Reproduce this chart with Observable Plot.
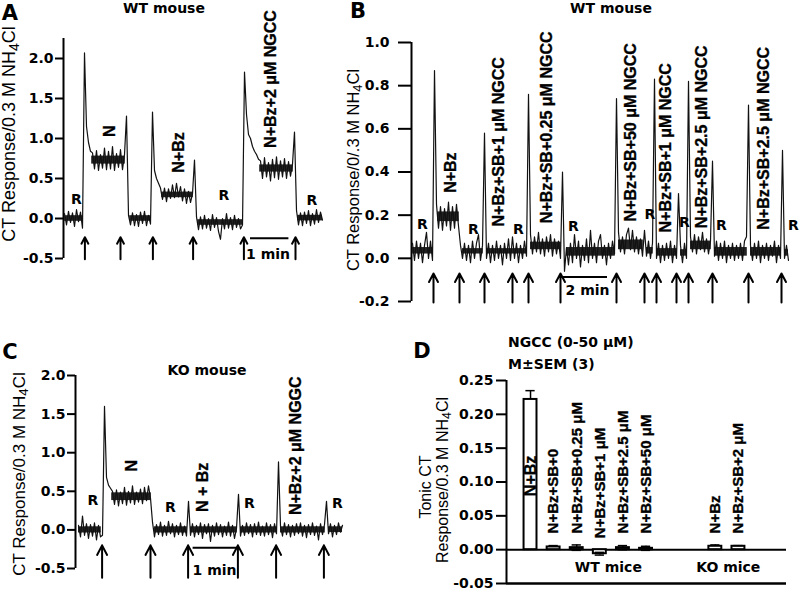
<!DOCTYPE html>
<html><head><meta charset="utf-8">
<script src="https://cdn.jsdelivr.net/npm/d3@7"></script>
<script src="https://cdn.jsdelivr.net/npm/@observablehq/plot@0.6"></script>
<style>
body{margin:0;background:#fff;}
#fig{position:relative;width:800px;height:590px;overflow:hidden;background:#fff;color:#000;}
.panel{position:absolute;}
.lbl{position:absolute;font-family:"DejaVu Sans";font-weight:bold;font-size:14px;white-space:nowrap;transform:translate(-50%,-50%);line-height:1;}
.lbll{position:absolute;font-family:"DejaVu Sans";font-weight:bold;font-size:14px;white-space:nowrap;transform:translate(0,-50%);line-height:1;}
.ytitle{position:absolute;font-family:"Liberation Sans";white-space:nowrap;transform:translate(-50%,-50%) rotate(-90deg);line-height:1;}
.ytitle sub{font-size:0.78em;vertical-align:-0.28em;line-height:0;}
.letter{position:absolute;font-family:"DejaVu Sans";font-weight:bold;font-size:21px;transform:translate(-50%,-50%);line-height:1;}
</style></head><body><div id="fig"></div>
<script>
// ---------- Panel A data (WT mouse) ----------
const traceA = [
0.06,-0.08,0.09,-0.05,0.07,-0.10,0.11,-0.04,0.08,-0.12,
2.07,
1.15,0.95,0.84,
0.82,0.62,0.85,0.60,0.80,0.63,0.88,0.61,0.84,0.62,0.90,0.60,0.81,0.64,0.86,0.61,0.80,
1.28,
0.04,
-0.08,0.07,-0.09,0.05,-0.10,0.08,-0.06,0.09,-0.09,0.04,-0.07,
1.33,
0.60,0.50,0.44,0.38,
0.24,0.38,0.21,0.37,0.25,0.42,0.26,0.44,0.27,0.40,0.22,0.37,0.19,0.34,0.20,0.31,
0.73,
0.02,
-0.14,0.02,-0.13,0.04,-0.12,0.0,-0.15,0.05,-0.11,0.01,-0.16,-0.26,0.0,-0.13,0.06,-0.12,0.01,-0.14,0.04,-0.11,0.0,-0.13,
-0.08,
1.83,
1.30,1.05,1.00,0.90,0.84,0.80,0.74,
0.72,0.50,0.76,0.52,0.70,0.47,0.74,0.51,0.77,0.49,0.72,0.52,0.75,0.50,0.71,0.53,0.68,
1.08,
0.10,
-0.08,0.07,-0.09,0.08,-0.06,0.10,-0.09,0.06,-0.07,0.11,-0.05,0.08,-0.02
];
// dense core of the noisy trace, read as [start, end, low, high]
const coreA = [
  [0, 9.4, -0.035, 0.035], [13.6, 30.4, 0.68, 0.78], [32.6, 43.4, -0.035, 0.035],
  [48.6, 64.4, 0.26, 0.33], [66.6, 89, -0.085, -0.015], [97.6, 114.4, 0.58, 0.67], [116.6, 129, -0.03, 0.04]
];
const ticksA = [-0.5, 0, 0.5, 1.0, 1.5, 2.0];
const arrowsA = [10.2, 28, 44.2, 64.3, 89.7, 115.5];
const scaleA = [{from: 93, to: 112.2, y: -0.246, text: "1 min", tx: 101.75, ty: -0.45}];
const flatLabelsA = [
  {text: "R", t: 6, v: 0.24}, {text: "R", t: 79.75, v: 0.29}, {text: "R", t: 123.75, v: 0.225}
];
const rotLabelsA = [
  {text: "N", t: 22.5, v: 1.09}, {text: "N+Bz", t: 57.25, v: 0.825},
  {text: "N+Bz+2 \u03bcM NGCC", t: 103, v: 1.744}
];

// ---------- Panel B data (WT mouse) ----------
const traceB = [
0.07,-0.01,0.08,0.0,0.07,-0.02,0.06,0.12,0.0,0.08,-0.01,
0.87,
0.25,0.14,0.24,0.13,0.23,0.15,0.26,0.13,0.24,0.14,0.25,0.15,
0.06,
0.0,0.07,-0.01,0.06,-0.02,0.08,0.0,0.07,0.11,-0.01,0.06,
0.58,
0.0,0.07,-0.02,0.06,-0.01,0.08,0.0,0.06,-0.03,0.07,0.0,0.09,-0.01,0.10,0.0,0.07,-0.02,0.06,0.0,0.08,0.01,
0.76,
0.11,0.02,0.10,0.03,0.12,0.02,0.09,0.01,0.10,0.03,0.11,0.01,0.09,0.02,0.08,0.0,
0.40,
-0.06,
0.05,-0.03,0.07,-0.02,0.11,0.0,0.08,-0.04,0.06,-0.01,0.09,-0.02,0.13,0.0,0.07,-0.02,0.08,0.11,0.0,0.06,-0.03,0.07,0.0,0.08,0.02,
0.74,
0.12,0.03,0.10,0.02,0.11,0.14,0.04,0.13,0.03,0.10,0.02,0.09,0.01,
0.13,
0.01,0.08,0.0,0.07,
0.83,
0.0,0.07,-0.02,0.06,-0.01,0.07,0.0,0.08,-0.02,0.06,0.0,
0.30,
0.06,-0.02,0.07,0.0,
0.82,
0.10,0.03,0.11,0.02,0.10,0.04,0.12,0.03,0.09,0.02,0.08,
0.45,
0.01,0.08,-0.01,0.07,0.0,0.08,-0.02,0.06,0.0,0.07,-0.01,0.06,0.0,0.07,-0.01,0.08,0.10,
0.71,
0.06,-0.01,0.07,0.0,0.08,-0.02,0.06,0.0,0.07,-0.01,0.06,0.01,0.08,-0.02,0.06,0.0,
0.50,
0.0,0.06,-0.01
];
const coreB = [
  [0, 10.4, 0.02, 0.05], [12.6, 23.4, 0.17, 0.215], [25, 35.4, 0.02, 0.045], [37, 57.4, 0.02, 0.045],
  [59, 74.4, 0.04, 0.075], [77, 101.4, 0.01, 0.05], [103, 115.4, 0.04, 0.085], [117, 120.4, 0.02, 0.05],
  [122, 132.4, 0.01, 0.045], [134, 137.4, 0.01, 0.04], [139, 149.4, 0.04, 0.08], [151, 167.4, 0.01, 0.05],
  [169, 184.4, 0.01, 0.05], [186, 188, 0.01, 0.04]
];
const ticksB = [-0.2, 0, 0.2, 0.4, 0.6, 0.8, 1.0];
const arrowsB = [10.5, 23.5, 36, 50, 58, 74, 102, 116, 122, 132, 138, 150, 168, 184.5];
const scaleB = [{from: 75.5, to: 97.5, y: -0.087, text: "2 min", tx: 87.5, ty: -0.147}];
const flatLabelsB = [
  {text: "R", t: 5, v: 0.158}, {text: "R", t: 30.5, v: 0.135}, {text: "R", t: 53, v: 0.135},
  {text: "R", t: 80.5, v: 0.149}, {text: "R", t: 118.75, v: 0.205}, {text: "R", t: 136, v: 0.167},
  {text: "R", t: 154.5, v: 0.153}, {text: "R", t: 190.5, v: 0.153}
];
const rotLabelsB = [
  {text: "N+Bz", t: 19, v: 0.397},
  {text: "N+Bz+SB+1 \u03bcM NGCC", t: 43.25, v: 0.54},
  {text: "N+Bz+SB+0.25 \u03bcM NGCC", t: 67.25, v: 0.607},
  {text: "N+Bz+SB+50 \u03bcM NGCC", t: 109, v: 0.584},
  {text: "N+Bz+SB+1 \u03bcM NGCC", t: 126.5, v: 0.512},
  {text: "N+Bz+SB+2.5 \u03bcM NGCC", t: 144.75, v: 0.563},
  {text: "N+Bz+SB+2.5 \u03bcM NGCC", t: 175.75, v: 0.556}
];

// ---------- Panel C data (KO mouse) ----------
const traceC = [
0.06,-0.09,0.18,-0.07,0.08,-0.11,0.07,-0.08,0.09,-0.13,0.06,-0.09,
-0.07,
1.60,
0.68,0.58,0.54,
0.50,0.33,0.52,0.31,0.49,0.34,0.55,0.32,0.50,0.35,0.57,0.33,0.49,0.36,0.53,0.34,0.55,0.38,0.57,0.41,
0.10,
-0.09,0.07,-0.06,0.10,-0.08,0.06,-0.07,0.11,-0.05,0.08,-0.09,0.06,-0.06,0.09,-0.07,0.05,-0.08,
0.37,
-0.07,0.08,-0.09,0.06,-0.06,0.09,-0.11,0.07,-0.05,0.08,-0.15,0.06,-0.08,0.09,-0.06,0.07,-0.09,0.05,-0.07,0.10,-0.08,0.06,-0.11,0.02,
0.46,
-0.08,0.06,-0.07,0.09,-0.05,0.07,-0.09,0.08,-0.06,0.10,-0.07,0.05,-0.08,0.09,-0.06,0.07,-0.10,0.08,-0.05,
0.88,
0.05,-0.08,0.09,-0.06,0.07,-0.09,0.06,-0.07,0.08,-0.05,0.09,-0.08,0.06,-0.10,0.07,-0.06,0.09,-0.07,0.05,-0.13,0.08,-0.06,0.07,
0.37,
-0.05,0.08,-0.09,0.06,-0.06,0.09,-0.03,0.06
];
const coreC = [
  [0, 11.4, -0.04, 0.04], [16.6, 36.4, 0.38, 0.48], [38, 54.4, -0.04, 0.04], [56, 79.4, -0.04, 0.04],
  [81, 99.4, -0.04, 0.04], [101, 123.4, -0.04, 0.04], [125, 132, -0.035, 0.04]
];
const ticksC = [-0.5, 0, 0.5, 1.0, 1.5, 2.0];
const arrowsC = [11.8, 36, 54.8, 79.7, 98.8, 122.7];
const scaleC = [{from: 57.3, to: 79.7, y: -0.232, text: "1 min", tx: 68, ty: -0.53}];
const flatLabelsC = [
  {text: "R", t: 7.25, v: 0.38}, {text: "R", t: 46, v: 0.29},
  {text: "R", t: 85.5, v: 0.34}, {text: "R", t: 129.5, v: 0.34}
];
const rotLabelsC = [
  {text: "N", t: 26.5, v: 0.83}, {text: "N + Bz", t: 62.25, v: 0.55},
  {text: "N+Bz+2 \u03bcM NGGC", t: 108.5, v: 1.09}
];

// ---------- Panel D data (tonic response, mean ± SEM, n = 3) ----------
const barNames = ["N+Bz", "N+Bz+SB+0", "N+Bz+SB+0.25 \u03bcM", "N+Bz+SB+1 \u03bcM", "N+Bz+SB+2.5 \u03bcM", "N+Bz+SB+50 \u03bcM", "N+Bz", "N+Bz+SB+2 \u03bcM"];
const barSlots = [0, 1, 2, 3, 4, 5, 8, 9];
const barMeans = [0.222, 0.004, 0.003, -0.006, 0.003, 0.002, 0.005, 0.005];
const barSems  = [0.013, 0.002, 0.004, 0.002, 0.003, 0.003, 0.002, 0.001];
const barLabelV = [0.109, 0.024, 0.024, 0.017, 0.024, 0.024, 0.024, 0.024];
const ticksD = [-0.05, 0, 0.05, 0.10, 0.15, 0.20, 0.25];
const groupNames = [{text: "WT mice", t: 3.37, v: -0.0265}, {text: "KO mice", t: 8.56, v: -0.0265}];

// ---------- helpers ----------
const fig = document.getElementById("fig");
function place(node, left, top) {
  const d = document.createElement("div");
  d.className = "panel"; d.style.left = left + "px"; d.style.top = top + "px";
  d.appendChild(node); fig.appendChild(d);
}
function html(cls, content, x, y, size) {
  const d = document.createElement("div");
  d.className = cls; d.innerHTML = content;
  d.style.left = x + "px"; d.style.top = y + "px";
  if (size) d.style.fontSize = size + "px";
  fig.appendChild(d);
}
const flatFont = {fontFamily: "DejaVu Sans", fontWeight: "bold", fontSize: 14, fill: "black"};
const rotFont = {fontFamily: "Liberation Sans", fontWeight: "bold", fontSize: 16, fill: "black", stroke: "black", strokeWidth: 0.35};

function tracePanel(o) {
  return Plot.plot({
    width: o.width, height: o.height,
    marginLeft: o.ml, marginRight: o.mr, marginTop: o.mt, marginBottom: o.mb,
    style: {background: "transparent", overflow: "visible"},
    x: {domain: o.xDomain, axis: null},
    y: {domain: o.yDomain},
    marks: [
      Plot.ruleX([o.xDomain[0]], {stroke: "black", strokeWidth: 2}),
      Plot.axisY({ticks: o.ticks, tickFormat: d => d.toFixed(1), tickSize: o.tickSize, tickPadding: o.tickPadding,
        strokeWidth: 2, label: null, ...flatFont}),
      Plot.rect(o.core, {x1: d => d[0], x2: d => d[1], y1: d => d[2], y2: d => d[3], fill: "#222"}),
      Plot.lineY(o.trace, {stroke: "#111", strokeWidth: 1.2}),
      Plot.arrow(o.arrows, {x1: d => d, x2: d => d, y1: () => o.arrowY[0], y2: () => o.arrowY[1],
        headLength: 11, headAngle: 55, stroke: "black", strokeWidth: 2}),
      Plot.ruleY(o.scale, {x1: "from", x2: "to", y: "y", stroke: "black", strokeWidth: 2}),
      Plot.text(o.scale, {x: "tx", y: "ty", text: "text", ...flatFont}),
      Plot.text(o.flat, {x: "t", y: "v", text: "text", ...flatFont}),
      Plot.text(o.rot, {x: "t", y: "v", text: "text", rotate: -90, ...rotFont})
    ]
  });
}

// ---------- Panel A ----------
place(tracePanel({
  width: 330, height: 300, ml: 63, mr: 8, mt: 38, mb: 42,
  xDomain: [-0.5, 129], yDomain: [-0.5, 2.25], ticks: ticksA, tickSize: 8, tickPadding: 2,
  trace: traceA, core: coreA, arrows: arrowsA, arrowY: [-0.51, -0.233], scale: scaleA,
  flat: flatLabelsA, rot: rotLabelsA
}), 0, 0);

// ---------- Panel B ----------
place(tracePanel({
  width: 470, height: 310, ml: 81, mr: 12, mt: 42, mb: 9,
  xDomain: [-0.5, 188], yDomain: [-0.2, 1.0], ticks: ticksB, tickSize: 13, tickPadding: 9,
  trace: traceB, core: coreB, arrows: arrowsB, arrowY: [-0.205, -0.07], scale: scaleB,
  flat: flatLabelsB, rot: rotLabelsB
}), 330, 0);

// ---------- Panel C ----------
place(tracePanel({
  width: 360, height: 290, ml: 75, mr: 18, mt: 75, mb: 22,
  xDomain: [-1.5, 132], yDomain: [-0.5, 2.0], ticks: ticksC, tickSize: 8, tickPadding: 2,
  trace: traceC, core: coreC, arrows: arrowsC, arrowY: [-0.62, -0.2], scale: scaleC,
  flat: flatLabelsC, rot: rotLabelsC
}), 0, 300);

// ---------- Panel D ----------
const bars = barNames.map((name, i) => ({name, slot: barSlots[i], mean: barMeans[i], sem: barSems[i], lv: barLabelV[i], inside: i === 0}));
const xDomD = [-1.04, 11.08];
place(Plot.plot({
  width: 400, height: 290, marginLeft: 106, marginRight: 14, marginTop: 80, marginBottom: 7,
  style: {background: "transparent", overflow: "visible"},
  x: {domain: xDomD, axis: null},
  y: {domain: [-0.05, 0.25]},
  marks: [
    Plot.ruleX([xDomD[0]], {stroke: "black", strokeWidth: 2}),
    Plot.ruleY([0], {stroke: "black", strokeWidth: 2}),
    Plot.ruleY([-0.05], {stroke: "black", strokeWidth: 2.5}),
    Plot.axisY({ticks: ticksD, tickFormat: d => d.toFixed(2), tickSize: 10, tickPadding: 3, strokeWidth: 2, label: null, ...flatFont}),
    Plot.ruleX(bars, {x: "slot", y1: d => d.mean - d.sem, y2: d => d.mean + d.sem, stroke: "black", strokeWidth: 1.5}),
    Plot.ruleY(bars, {y: d => d.mean - d.sem, x1: d => d.slot - 0.2, x2: d => d.slot + 0.2, stroke: "black", strokeWidth: 1.5}),
    Plot.rect(bars, {x1: d => d.slot - 0.28, x2: d => d.slot + 0.28, y1: () => 0, y2: "mean", fill: "white", stroke: "black", strokeWidth: 2}),
    Plot.ruleY(bars, {y: d => d.mean + d.sem, x1: d => d.slot - 0.2, x2: d => d.slot + 0.2, stroke: "black", strokeWidth: 1.5}),
    Plot.text(bars.filter(d => d.inside), {x: "slot", y: "lv", text: "name", rotate: -90, ...rotFont}),
    Plot.text(bars.filter(d => !d.inside), {x: "slot", y: "lv", text: "name", rotate: -90, textAnchor: "start", ...rotFont, fontSize: 15}),
    Plot.text(groupNames, {x: "t", y: "v", text: "text", ...flatFont})
  ]
}), 400, 300);

// ---------- titles, letters, axis titles ----------
html("letter", "A", 10, 13);
html("letter", "B", 358, 11);
html("letter", "C", 10, 352);
html("letter", "D", 422, 351);
html("lbl", "WT mouse", 164, 8);
html("lbl", "WT mouse", 611, 8);
html("lbl", "KO mouse", 207, 370);
html("lbll", "NGCC (0-50 \u03bcM)", 508, 342);
html("lbll", "M\u00b1SEM (3)", 508, 364);
html("ytitle", "CT Response/0.3 M NH<sub>4</sub>Cl", 9, 134, 18);
html("ytitle", "CT Response/0/.3 M NH<sub>4</sub>Cl", 353, 170, 16.5);
html("ytitle", "CT Response/0.3 M NH<sub>4</sub>Cl", 19, 474, 17);
html("ytitle", "Tonic CT", 426, 487, 16);
html("ytitle", "Response/0.3 M NH<sub>4</sub>Cl", 443, 480, 16);
</script></body></html>
